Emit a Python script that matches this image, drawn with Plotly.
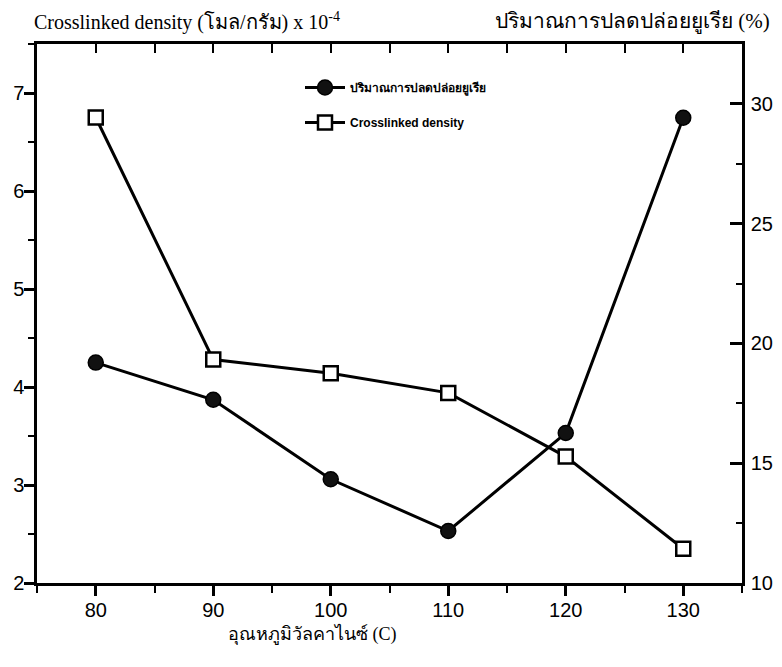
import plotly.graph_objects as go

temps = [80, 90, 100, 110, 120, 130]
urea_release = [19.2, 17.65, 14.33, 12.17, 16.26, 29.42]
crosslink_density = [6.75, 4.28, 4.14, 3.94, 3.29, 2.35]

left_title = "Crosslinked density (โมล/กรัม) x 10<sup>-4</sup>"
right_title = "ปริมาณการปลดปล่อยยูเรีย (%)"
x_title = "อุณหภูมิวัลคาไนซ์ (C)"
urea_name = "ปริมาณการปลดปล่อยยูเรีย"
cd_name = "Crosslinked density"

# page body has an 8px default margin; work in window pixels and shift
OFF = 8
W, H = 782 - 2 * OFF, 640
L, R, T, B = 37, 742, 44, 583          # plot frame in window pixels
Lf, Rf, Tf, Bf = L - OFF, R - OFF, T - OFF, B - OFF


def px(x):
    return (x - L) / (R - L)


def py(y):
    return (B - y) / (B - T)


fig = go.Figure()
fig.add_trace(go.Scatter(
    x=temps, y=urea_release, name=urea_name, yaxis="y2", legendgroup="a",
    mode="lines+markers", line=dict(color="black", width=3),
    marker=dict(symbol="circle", size=15, color="#111", line=dict(color="black", width=1.5)),
))
fig.add_trace(go.Scatter(
    x=temps, y=crosslink_density, name=cd_name, yaxis="y", legendgroup="b",
    mode="lines+markers", line=dict(color="black", width=3),
    marker=dict(symbol="square", size=14, color="white", line=dict(color="black", width=2.5)),
))
# invisible trace to anchor the top axis
fig.add_trace(go.Scatter(x=[temps[0]], y=[crosslink_density[0]], xaxis="x2", yaxis="y",
                         mode="markers", marker=dict(opacity=0), showlegend=False, hoverinfo="skip"))

tickfont = dict(family="Liberation Sans, Arial", size=20, color="black")

fig.update_layout(
    width=W, height=H,
    margin=dict(l=Lf, r=W - Rf, t=Tf, b=H - Bf, pad=0, autoexpand=False),
    paper_bgcolor="white", plot_bgcolor="white",
    showlegend=True,
    legend=dict(x=px(300), y=py(73), xanchor="left", yanchor="top",
                bgcolor="rgba(0,0,0,0)", font=dict(family="Liberation Sans, Arial", size=12, color="black", weight="bold"),
                tracegroupgap=16, itemwidth=40),
    xaxis=dict(range=[75, 135], dtick=10, tick0=80, showgrid=False, zeroline=False, automargin=False,
               showline=True, linecolor="black", linewidth=2.5,
               ticks="outside", ticklen=10, tickwidth=2.5, tickcolor="black",
               minor=dict(dtick=5, tick0=75, ticks="outside", ticklen=7, tickwidth=2, tickcolor="black"),
               tickfont=tickfont, ticklabelstandoff=-3),
    xaxis2=dict(range=[75, 135], overlaying="x", side="top", dtick=5, tick0=75, showgrid=False,
                zeroline=False, showline=True, linecolor="black", linewidth=2.5, automargin=False,
                ticks="inside", ticklen=9, tickwidth=2, tickcolor="black", showticklabels=False),
    yaxis=dict(range=[2, 7.5], dtick=1, tick0=2, showgrid=False, zeroline=False, automargin=False,
               showline=True, linecolor="black", linewidth=2.5,
               ticks="outside", ticklen=10, tickwidth=2.5, tickcolor="black",
               minor=dict(dtick=0.5, tick0=2, ticks="outside", ticklen=6, tickwidth=2, tickcolor="black"),
               tickfont=tickfont, ticklabelstandoff=-4),
    yaxis2=dict(range=[10, 32.5], dtick=5, tick0=10, overlaying="y", side="right", showgrid=False,
                zeroline=False, showline=True, linecolor="black", linewidth=2.5, automargin=False,
                ticks="inside", ticklen=12, tickwidth=2.5, tickcolor="black",
                minor=dict(dtick=2.5, tick0=10, ticks="inside", ticklen=6, tickwidth=2, tickcolor="black"),
                tickfont=tickfont, ticklabelstandoff=2),
    annotations=[
        dict(text=left_title, xref="paper", yref="paper", x=px(32), y=py(22),
             xanchor="left", yanchor="middle", showarrow=False,
             font=dict(family="Liberation Serif, Times New Roman", size=20, color="black")),
        dict(text=right_title, xref="paper", yref="paper", x=px(772), y=py(22),
             xanchor="right", yanchor="middle", showarrow=False,
             font=dict(family="Liberation Serif, Times New Roman", size=21, color="black")),
        dict(text=x_title, xref="paper", yref="paper", x=px(312), y=py(634),
             xanchor="center", yanchor="middle", showarrow=False,
             font=dict(family="Liberation Serif, Times New Roman", size=18, color="black")),
    ],
)

fig.write_html("out.html")
